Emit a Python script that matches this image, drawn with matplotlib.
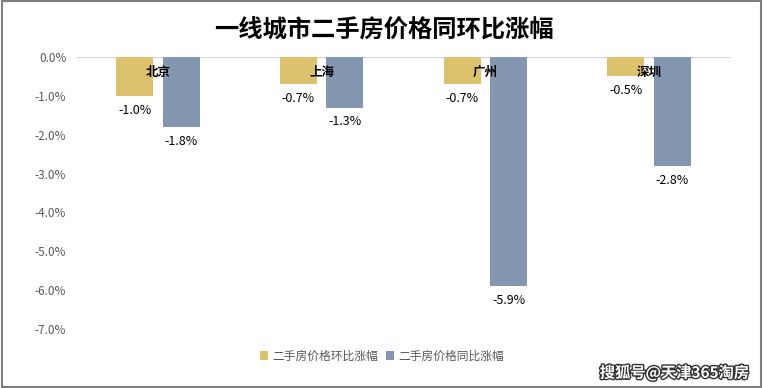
import matplotlib
matplotlib.use('Agg')
import matplotlib.pyplot as plt
import matplotlib.patheffects as pe
import numpy as np

plt.rcParams['font.family'] = ['Noto Sans CJK SC', 'DejaVu Sans']

cities = ['北京', '上海', '广州', '深圳']
mom = [-1.0, -0.7, -0.7, -0.5]   # 环比
yoy = [-1.8, -1.3, -5.9, -2.8]   # 同比
ticks = [0, -1, -2, -3, -4, -5, -6, -7]

c_mom = '#DCC26D'
c_yoy = '#8497B0'

fig = plt.figure(figsize=(7.63, 3.88), dpi=100)
ax = fig.add_axes([76 / 763, (388 - 329) / 388, (731 - 76) / 763, (329 - 57) / 388])

x = np.arange(len(cities))
w = 0.225
off = 0.142
ax.bar(x - off, mom, w, color=c_mom, label='二手房价格环比涨幅')
ax.bar(x + off, yoy, w, color=c_yoy, label='二手房价格同比涨幅')

for i in range(len(cities)):
    ax.text(x[i] - off, mom[i] - 0.2, f'{mom[i]:.1f}%', ha='center', va='top', fontsize=9)
    ax.text(x[i] + off, yoy[i] - 0.2, f'{yoy[i]:.1f}%', ha='center', va='top', fontsize=9)
    ax.text(x[i], -0.4, cities[i], ha='center', va='center', fontsize=9, fontweight='bold')

ax.set_xlim(-0.5, len(cities) - 0.5)
ax.set_ylim(-7, 0)
ax.set_yticks(ticks)
ax.set_yticklabels([f'{t:.1f}%' for t in ticks], color='#595959', fontsize=8.5)
ax.set_xticks([])
ax.tick_params(axis='y', length=0, pad=7)
for s in ax.spines.values():
    s.set_visible(False)
ax.axhline(0, color='#D9D9D9', lw=1, zorder=0)

fig.text(384 / 763, 1 - 31 / 388, '一线城市二手房价格同环比涨幅', ha='center', va='center',
         fontsize=17.5, fontweight='black')

fig.legend(loc='center', bbox_to_anchor=(382 / 763, 1 - 356 / 388), ncol=2, frameon=False,
           fontsize=8.5, handlelength=0.7, handleheight=0.7, handletextpad=0.4,
           columnspacing=0.6, labelcolor='#595959')

fig.text(1 - 14 / 763, 1 - 373 / 388, '搜狐号@天津365淘房', ha='right', va='center',
         fontsize=11, color='white', fontweight='bold',
         path_effects=[pe.withStroke(linewidth=2, foreground='#333333')])

border = plt.Rectangle((0.002, 0.002), 0.996, 0.996, transform=fig.transFigure,
                       fill=False, edgecolor='#7F7F7F', lw=1.5)
fig.patches.append(border)

fig.savefig('out.png', dpi=100)
